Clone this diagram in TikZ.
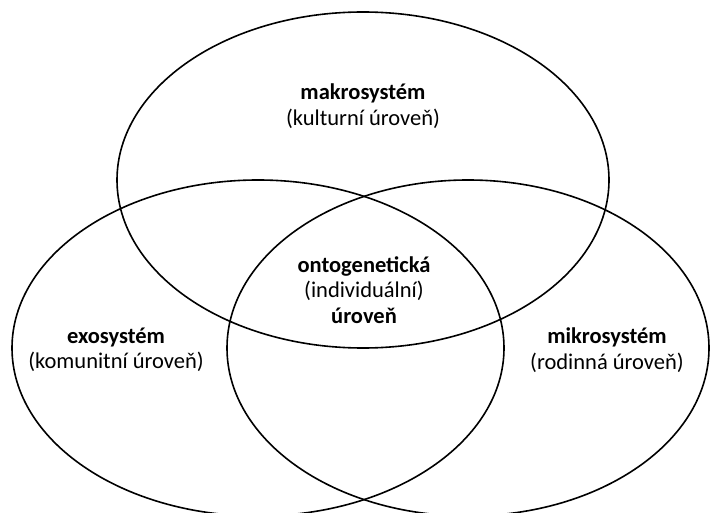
\documentclass[tikz,border=0pt]{standalone}
\usepackage{fontspec}
\setmainfont{Carlito}
\usepackage{tikz}

\begin{document}
\begin{tikzpicture}[x=1pt,y=-1pt]
\tikzstyle{every node}+=[inner sep=0pt,align=center,font=\fontsize{22.5}{25.5}\selectfont]
\tikzstyle{kruh}=[black,line width=1.6pt]
\useasboundingbox (0,0) rectangle (710,513);
\clip (0,0) rectangle (710,513);
% tri urovne
\draw [kruh] (363,180) ellipse (246 and 168);
\draw [kruh] (258,348) ellipse (246 and 168);
\draw [kruh] (468,348) ellipse (241 and 168);
% popisky
\node (makro) at (363,106) {\textbf{makrosystém}\\(kulturní úroveň)};
\node (onto) at (364,290) {\textbf{ontogenetická}\\(individuální)\\\textbf{úroveň}};
\node (exo) at (116,350) {\textbf{exosystém}\\(komunitní úroveň)};
\node (mikro) at (607,350) {\textbf{mikrosystém}\\(rodinná úroveň)};
\end{tikzpicture}
\end{document}
